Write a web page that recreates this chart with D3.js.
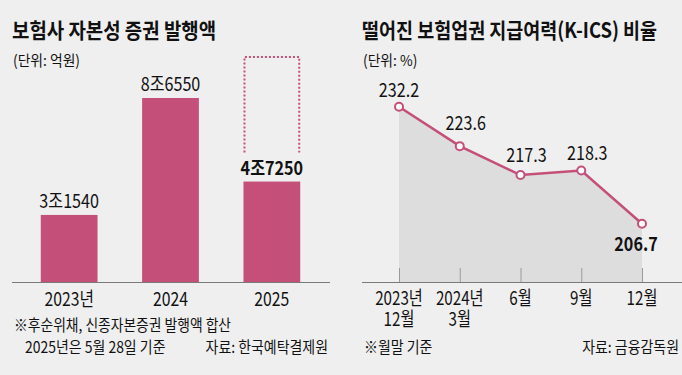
<!DOCTYPE html>
<html>
<head>
<meta charset="utf-8">
<script src="https://cdn.jsdelivr.net/npm/d3@7"></script>
<style>
  html, body { margin: 0; padding: 0; background: #efefef; }
  svg text { font-family: "Noto Sans CJK KR", "Noto Sans", sans-serif; fill: #111; }
</style>
</head>
<body>
<div id="chart"></div>
<script>
// left chart data - 자본성 증권 발행액 (억원)
const barYears = ["2023년", "2024", "2025"];
const barValues = [31540, 86550, 47250];
const barLabels = ["3조1540", "8조6550", "4조7250"];
const projected2025 = 106300; // dotted outline above the 2025 bar

// right chart data - K-ICS 비율 (%)
const kicsDates = [["2023년", "12월"], ["2024년", "3월"], ["6월"], ["9월"], ["12월"]];
const kicsValues = [232.2, 223.6, 217.3, 218.3, 206.7];

// label nudges for the line values (dx, dy from the point)
const kicsLabelShift = [[0, -10], [6, -16], [6, -13], [6, -10], [-6, 27]];

const width = 682;
const height = 375;
const baseY = 282;
const sx = 0.85; // narrow look of the original typeface
const pink = "#c44f79";

const svg = d3.select("#chart")
    .append("svg")
    .attr("width", width)
    .attr("height", height);

svg.append("rect")
    .attr("width", width)
    .attr("height", height)
    .attr("fill", "#efefef");

// text helper, squeezes text horizontally
function label(x, y, str, size, opts = {}) {
    return svg.append("text")
        .attr("transform", `translate(${x},${y}) scale(${opts.scale || sx},1)`)
        .attr("text-anchor", opts.anchor || "start")
        .attr("font-size", size)
        .attr("font-weight", opts.bold ? 700 : 400)
        .attr("fill", opts.color || "#111")
        .text(str);
}

// ---------- left: bars ----------
label(12, 38, "보험사 자본성 증권 발행액", 21, { bold: true, scale: 0.9 });
label(13, 66, "(단위: 억원)", 15, { color: "#333", scale: 0.92 });

const xBand = d3.scaleBand()
    .domain(barYears)
    .range([19.5, 321.5])
    .paddingInner(0.44)
    .paddingOuter(0.21);

const yBar = d3.scaleLinear()
    .domain([0, 100000])
    .range([baseY, 69.4]);

svg.selectAll("rect.bar")
    .data(barValues)
    .enter()
    .append("rect")
    .attr("class", "bar")
    .attr("x", (d, i) => xBand(barYears[i]))
    .attr("y", d => yBar(d))
    .attr("width", xBand.bandwidth())
    .attr("height", d => baseY - yBar(d))
    .attr("fill", pink);

// dotted outline for the 2025 estimate
const x25 = xBand("2025");
const bw = xBand.bandwidth();
const boxTop = yBar(projected2025);
const boxBottom = yBar(barValues[2]) - 29;
svg.append("path")
    .attr("d", `M${x25 + 1},${boxBottom} V${boxTop + 1} H${x25 + bw - 1} V${boxBottom}`)
    .attr("fill", "none")
    .attr("stroke", pink)
    .attr("stroke-width", 2)
    .attr("stroke-dasharray", "2,2");

barValues.forEach((v, i) => {
    label(xBand(barYears[i]) + bw / 2, yBar(v) - 7, barLabels[i], 19,
        { anchor: "middle", bold: i === 2 });
    label(xBand(barYears[i]) + bw / 2, 305.5, barYears[i], 19, { anchor: "middle", scale: 0.83 });
});

svg.append("line")
    .attr("x1", 12).attr("x2", 330)
    .attr("y1", baseY + 0.5).attr("y2", baseY + 0.5)
    .attr("stroke", "#7a7a7a");

label(14, 331, "※후순위채, 신종자본증권 발행액 합산", 15.5, { scale: 0.89 });
label(25, 353, "2025년은 5월 28일 기준", 15.5, { scale: 0.9 });
label(328, 353, "자료: 한국예탁결제원", 15.5, { anchor: "end", scale: 0.9 });

// ---------- right: line ----------
label(362, 38, "떨어진 보험업권 지급여력(K-ICS) 비율", 21, { bold: true, scale: 0.88 });
label(363, 66, "(단위: %)", 15, { color: "#333", scale: 0.92 });

const xPoint = d3.scalePoint()
    .domain(d3.range(kicsValues.length))
    .range([399, 642]);

const yLine = d3.scaleLinear()
    .domain([194, 250])
    .range([baseY, 25]);

const area = d3.area()
    .x((d, i) => xPoint(i))
    .y0(baseY)
    .y1(d => yLine(d));

svg.append("path")
    .datum(kicsValues)
    .attr("d", area)
    .attr("fill", "#dcdddc");

// small ticks at each date
svg.selectAll("line.tick")
    .data(kicsValues)
    .enter()
    .append("line")
    .attr("class", "tick")
    .attr("x1", (d, i) => xPoint(i) + 0.5)
    .attr("x2", (d, i) => xPoint(i) + 0.5)
    .attr("y1", baseY - 14)
    .attr("y2", baseY)
    .attr("stroke", "#9a9a9a");

svg.append("line")
    .attr("x1", 362).attr("x2", 682)
    .attr("y1", baseY + 0.5).attr("y2", baseY + 0.5)
    .attr("stroke", "#7a7a7a");

const line = d3.line()
    .x((d, i) => xPoint(i))
    .y(d => yLine(d));

svg.append("path")
    .datum(kicsValues)
    .attr("d", line)
    .attr("fill", "none")
    .attr("stroke", pink)
    .attr("stroke-width", 2.5);

svg.selectAll("circle.dot")
    .data(kicsValues)
    .enter()
    .append("circle")
    .attr("class", "dot")
    .attr("cx", (d, i) => xPoint(i))
    .attr("cy", d => yLine(d))
    .attr("r", 4)
    .attr("fill", "#fff")
    .attr("stroke", pink)
    .attr("stroke-width", 2);

kicsValues.forEach((v, i) => {
    const [dx, dy] = kicsLabelShift[i];
    label(xPoint(i) + dx, yLine(v) + dy, v.toFixed(1), 19,
        { anchor: "middle", bold: i === kicsValues.length - 1 });
    kicsDates[i].forEach((t, j) => {
        label(xPoint(i), 305 + j * 21, t, 19, { anchor: "middle", scale: 0.8 });
    });
});

label(364, 353, "※월말 기준", 15.5, { scale: 0.9 });
label(679, 353, "자료: 금융감독원", 15.5, { anchor: "end", scale: 0.9 });
</script>
</body>
</html>
